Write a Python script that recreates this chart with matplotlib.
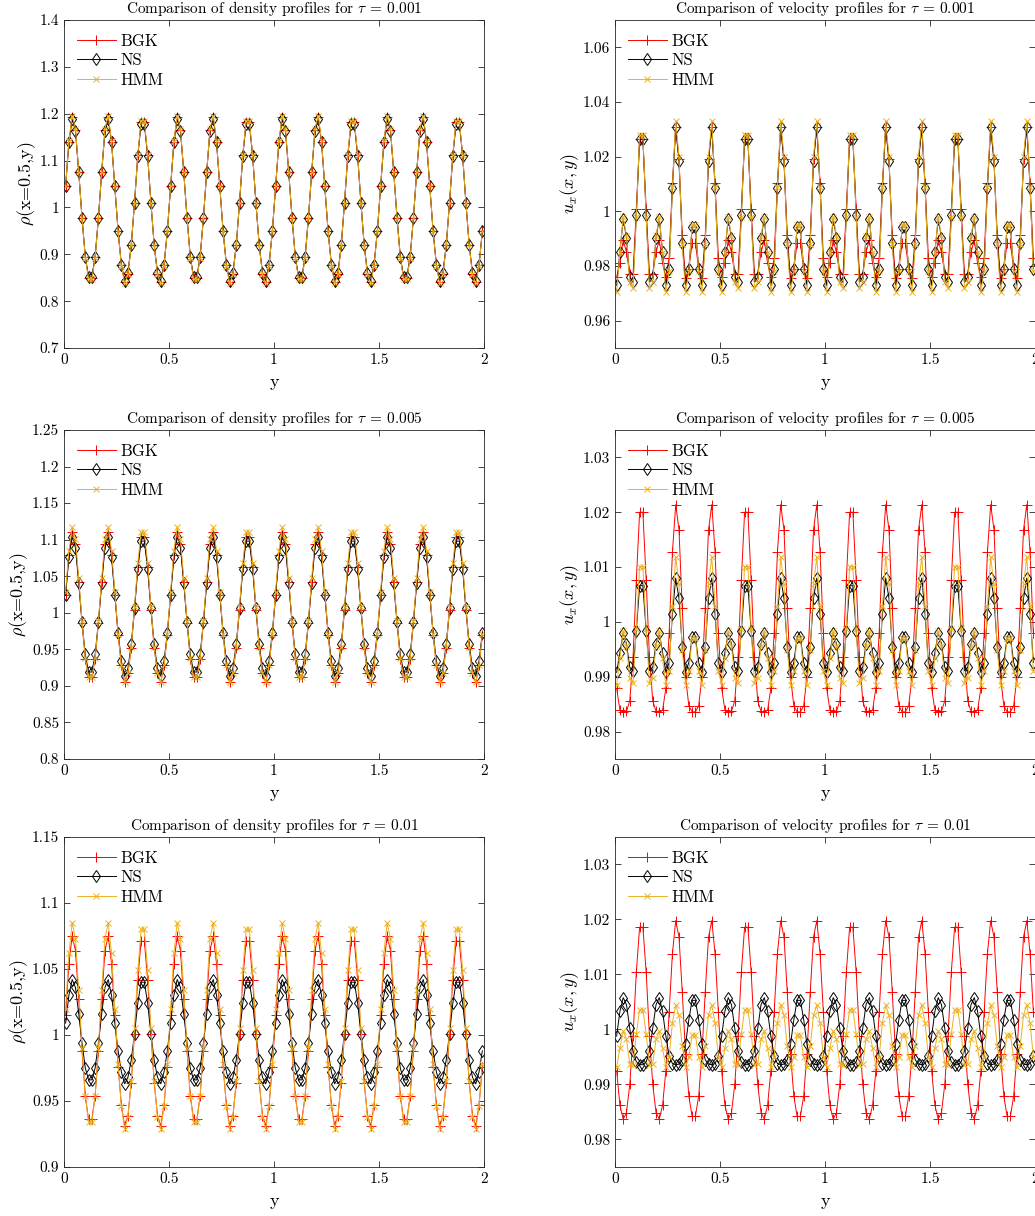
import numpy as np
import matplotlib.pyplot as plt
from matplotlib.ticker import FormatStrFormatter

plt.rcParams['font.family'] = 'serif'
plt.rcParams['font.serif'] = ['cmr10']
plt.rcParams['mathtext.fontset'] = 'cm'
plt.rcParams['axes.formatter.use_mathtext'] = True

# cell centres on [0, 2], 128 cells; profiles repeat every 32 cells (y = 0.5)
n_cells = 128
y = np.linspace(1 / 128, 2 - 1 / 128, n_cells)

# one period (32 cells) of each profile
rho_bgk_1 = [1.045, 1.140, 1.193, 1.166, 1.076, 0.978, 0.894, 0.850, 0.850, 0.894, 0.978, 1.076, 1.166, 1.193, 1.140, 1.045,
             0.949, 0.877, 0.840, 0.859, 0.919, 1.010, 1.111, 1.182, 1.182, 1.111, 1.010, 0.919, 0.859, 0.840, 0.877, 0.949]
rho_ns_1 = [1.045, 1.139, 1.189, 1.164, 1.076, 0.978, 0.895, 0.852, 0.852, 0.895, 0.978, 1.076, 1.164, 1.189, 1.139, 1.045,
            0.949, 0.878, 0.843, 0.861, 0.919, 1.010, 1.110, 1.179, 1.179, 1.110, 1.010, 0.919, 0.861, 0.843, 0.878, 0.949]
rho_hmm_1 = [1.045, 1.141, 1.196, 1.168, 1.076, 0.978, 0.893, 0.848, 0.848, 0.893, 0.978, 1.076, 1.168, 1.196, 1.141, 1.045,
             0.949, 0.876, 0.838, 0.857, 0.919, 1.010, 1.112, 1.185, 1.185, 1.112, 1.010, 0.919, 0.857, 0.838, 0.876, 0.949]

rho_bgk_5 = [1.025, 1.079, 1.110, 1.094, 1.042, 0.986, 0.937, 0.912, 0.912, 0.937, 0.986, 1.042, 1.094, 1.110, 1.079, 1.025,
             0.969, 0.928, 0.905, 0.917, 0.952, 1.004, 1.063, 1.104, 1.104, 1.063, 1.004, 0.952, 0.917, 0.905, 0.928, 0.969]
rho_ns_5 = [1.024, 1.076, 1.104, 1.089, 1.041, 0.988, 0.943, 0.919, 0.919, 0.943, 0.988, 1.041, 1.089, 1.104, 1.076, 1.024,
            0.973, 0.934, 0.913, 0.924, 0.957, 1.006, 1.060, 1.098, 1.098, 1.060, 1.006, 0.957, 0.924, 0.913, 0.934, 0.973]
rho_hmm_5 = [1.029, 1.085, 1.117, 1.101, 1.047, 0.989, 0.938, 0.912, 0.912, 0.938, 0.989, 1.047, 1.101, 1.117, 1.085, 1.029,
             0.971, 0.928, 0.905, 0.918, 0.953, 1.008, 1.068, 1.110, 1.110, 1.068, 1.008, 0.953, 0.918, 0.905, 0.928, 0.971]

rho_bgk_10 = [1.015, 1.054, 1.075, 1.064, 1.027, 0.988, 0.954, 0.936, 0.936, 0.954, 0.988, 1.027, 1.064, 1.075, 1.054, 1.015,
              0.976, 0.947, 0.931, 0.939, 0.964, 1.001, 1.042, 1.071, 1.071, 1.042, 1.001, 0.964, 0.939, 0.931, 0.947, 0.976]
rho_ns_10 = [1.009, 1.030, 1.042, 1.036, 1.016, 0.994, 0.975, 0.966, 0.966, 0.975, 0.994, 1.016, 1.036, 1.042, 1.030, 1.009,
             0.988, 0.972, 0.963, 0.968, 0.981, 1.001, 1.024, 1.040, 1.040, 1.024, 1.001, 0.981, 0.968, 0.963, 0.972, 0.988]
rho_hmm_10 = [1.020, 1.062, 1.085, 1.073, 1.034, 0.990, 0.954, 0.934, 0.934, 0.954, 0.990, 1.034, 1.073, 1.085, 1.062, 1.020,
              0.978, 0.946, 0.929, 0.938, 0.965, 1.005, 1.049, 1.080, 1.080, 1.049, 1.005, 0.965, 0.938, 0.929, 0.946, 0.978]

u_bgk_1 = [0.976, 0.981, 0.9895, 0.985, 0.977, 0.977, 1.001, 1.0265, 1.0265, 1.001, 0.977, 0.977, 0.985, 0.9895, 0.981, 0.976,
           0.983, 1.0104, 1.031, 1.019, 0.9913, 0.9755, 0.979, 0.9883, 0.9883, 0.979, 0.9755, 0.9913, 1.019, 1.031, 1.0104, 0.983]
u_ns_1 = [0.9729, 0.985, 0.9973, 0.9904, 0.976, 0.974, 0.9985, 1.0264, 1.0264, 0.9985, 0.974, 0.976, 0.9904, 0.9973, 0.985, 0.9729,
          0.979, 1.0086, 1.0307, 1.0185, 0.9886, 0.973, 0.979, 0.9943, 0.9943, 0.979, 0.973, 0.9886, 1.0185, 1.0307, 1.0086, 0.979]
u_hmm_1 = [0.9705, 0.985, 0.998, 0.991, 0.974, 0.972, 0.998, 1.028, 1.028, 0.998, 0.972, 0.974, 0.991, 0.998, 0.985, 0.9705,
           0.978, 1.009, 1.033, 1.020, 0.988, 0.9705, 0.978, 0.995, 0.995, 0.978, 0.9705, 0.988, 1.020, 1.033, 1.009, 0.978]

u_bgk_5 = [0.9879, 0.9839, 0.9835, 0.9837, 0.9856, 0.9936, 1.0076, 1.020, 1.020, 1.0076, 0.9936, 0.9856, 0.9837, 0.9835, 0.9839, 0.9879,
           0.9979, 1.0127, 1.0214, 1.0168, 1.0025, 0.990, 0.9847, 0.9836, 0.9836, 0.9847, 0.990, 1.0025, 1.0168, 1.0214, 1.0127, 0.9979]
u_ns_5 = [0.9908, 0.9944, 0.998, 0.996, 0.9917, 0.9911, 0.9984, 1.0066, 1.0066, 0.9984, 0.9911, 0.9917, 0.996, 0.998, 0.9944, 0.9908,
          0.9926, 1.0014, 1.008, 1.0043, 0.9955, 0.9908, 0.9926, 0.9972, 0.9972, 0.9926, 0.9908, 0.9955, 1.0043, 1.008, 1.0014, 0.9926]
u_hmm_5 = [0.9885, 0.9934, 0.9983, 0.9956, 0.9898, 0.9889, 0.9988, 1.0101, 1.0101, 0.9988, 0.9889, 0.9898, 0.9956, 0.9983, 0.9934, 0.9885,
           0.991, 1.0029, 1.0118, 1.0069, 0.9948, 0.9885, 0.991, 0.9971, 0.9971, 0.991, 0.9885, 0.9948, 1.0069, 1.0118, 1.0029, 0.991]

u_bgk_10 = [0.9925, 0.9862, 0.9837, 0.9849, 0.990, 0.9989, 1.0104, 1.0186, 1.0186, 1.0104, 0.9989, 0.990, 0.9849, 0.9837, 0.9862, 0.9925,
            1.0032, 1.0138, 1.0198, 1.0168, 1.0068, 0.9956, 0.9879, 0.9842, 0.9842, 0.9879, 0.9956, 1.0068, 1.0168, 1.0198, 1.0138, 1.0032]
u_ns_10 = [0.9988, 1.0033, 1.0058, 1.0045, 1.0002, 0.9961, 0.9941, 0.9936, 0.9936, 0.9941, 0.9961, 1.0002, 1.0045, 1.0058, 1.0033, 0.9988,
           0.9952, 0.9938, 0.9936, 0.9937, 0.9945, 0.9973, 1.0018, 1.0053, 1.0053, 1.0018, 0.9973, 0.9945, 0.9937, 0.9936, 0.9938, 0.9952]
u_hmm_10 = [0.9932, 0.9966, 0.9997, 0.9982, 0.9938, 0.9936, 0.9992, 1.0036, 1.0036, 0.9992, 0.9936, 0.9938, 0.9982, 0.9997, 0.9966, 0.9932,
            0.995, 1.0012, 1.0044, 1.0026, 0.997, 0.9931, 0.995, 0.999, 0.999, 0.995, 0.9931, 0.997, 1.0026, 1.0044, 1.0012, 0.995]

taus = ['0.001', '0.005', '0.01']

fig = plt.figure(figsize=(10.35, 12.16), dpi=100)

panels = [
    # (left, bottom, height, title, ylabel, series, ylim, yticks)
    (0.0618, 0.7138, 0.2697, 'density', r'$\rho$(x=0.5,y)', (rho_bgk_1, rho_ns_1, rho_hmm_1),
     (0.7, 1.4), np.arange(0.7, 1.401, 0.1)),
    (0.5942, 0.7138, 0.2697, 'velocity', r'$u_x(x,y)$', (u_bgk_1, u_ns_1, u_hmm_1),
     (0.95, 1.07), np.arange(0.96, 1.061, 0.02)),
    (0.0618, 0.3758, 0.2706, 'density', r'$\rho$(x=0.5,y)', (rho_bgk_5, rho_ns_5, rho_hmm_5),
     (0.8, 1.25), np.arange(0.8, 1.251, 0.05)),
    (0.5942, 0.3758, 0.2706, 'velocity', r'$u_x(x,y)$', (u_bgk_5, u_ns_5, u_hmm_5),
     (0.975, 1.035), np.arange(0.98, 1.031, 0.01)),
    (0.0618, 0.0403, 0.2714, 'density', r'$\rho$(x=0.5,y)', (rho_bgk_10, rho_ns_10, rho_hmm_10),
     (0.9, 1.15), np.arange(0.9, 1.151, 0.05)),
    (0.5942, 0.0403, 0.2714, 'velocity', r'$u_x(x,y)$', (u_bgk_10, u_ns_10, u_hmm_10),
     (0.975, 1.035), np.arange(0.98, 1.031, 0.01)),
]

for k, (left, bottom, height, kind, ylab, series, ylim, yticks) in enumerate(panels):
    ax = fig.add_axes([left, bottom, 0.4058, height])
    bgk, ns, hmm = [np.tile(s, n_cells // 32) for s in series]
    ax.plot(y, bgk, color='#FF0000', lw=0.7, marker='+', ms=7, mew=0.7, label='BGK')
    ax.plot(y, ns, color='black', lw=0.7, marker='d', ms=6, mfc='none', mew=0.7, label='NS')
    ax.plot(y, hmm, color='#EDB120', lw=0.7, marker='x', ms=5, mew=0.7, label='HMM')
    ax.set_xlim(0, 2)
    ax.set_ylim(*ylim)
    ax.set_xticks([0, 0.5, 1, 1.5, 2])
    ax.set_yticks(yticks)
    ax.xaxis.set_major_formatter(FormatStrFormatter('%g'))
    ax.yaxis.set_major_formatter(FormatStrFormatter('%g'))
    ax.tick_params(direction='in', top=True, right=True, length=4, width=0.6,
                   labelsize=11, color='#262626')
    for sp in ax.spines.values():
        sp.set_linewidth(0.6)
        sp.set_color('#262626')
    ax.set_title(r'Comparison of %s profiles for $\tau$ = %s' % (kind, taus[k // 2]),
                 fontsize=11, pad=5)
    ax.set_xlabel('y', fontsize=13, labelpad=6)
    ax.set_ylabel(ylab, fontsize=13, labelpad=1)
    ax.legend(loc='upper left', frameon=False, fontsize=12, handlelength=2.3,
              labelspacing=0.25, borderaxespad=0.5, borderpad=0.3, handletextpad=0.3)

fig.savefig('out.png', dpi=100)
